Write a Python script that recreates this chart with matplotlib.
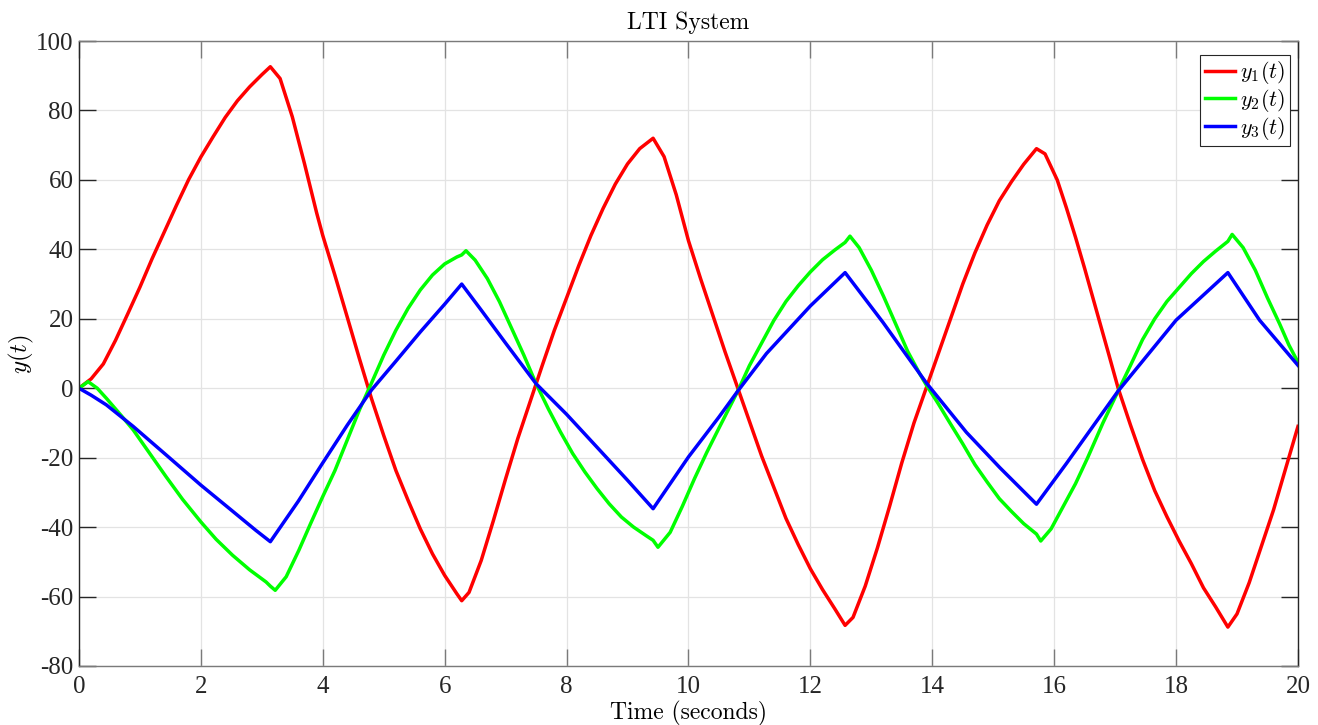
import matplotlib
matplotlib.use('Agg')
import matplotlib.pyplot as plt

# values, one time base per output
t1 = [0, 0.2, 0.4, 0.6, 0.8, 1.0, 1.2, 1.4, 1.6, 1.8, 2.0, 2.2, 2.4, 2.6, 2.8,
      3.0, 3.14, 3.3, 3.5, 3.7, 3.9, 4.0, 4.2, 4.4, 4.6, 4.8, 5.0, 5.2, 5.4,
      5.6, 5.8, 6.0, 6.2, 6.28, 6.4, 6.6, 6.8, 7.0, 7.2, 7.4, 7.6, 7.8, 8.0,
      8.2, 8.4, 8.6, 8.8, 9.0, 9.2, 9.42, 9.6, 9.8, 10.0, 10.2, 10.4, 10.6,
      10.8, 11.0, 11.2, 11.4, 11.6, 11.8, 12.0, 12.2, 12.4, 12.57, 12.7, 12.9,
      13.1, 13.3, 13.5, 13.7, 13.9, 14.1, 14.3, 14.5, 14.7, 14.9, 15.1, 15.3,
      15.5, 15.71, 15.85, 16.05, 16.2, 16.35, 16.5, 16.7, 16.9, 17.05, 17.25,
      17.45, 17.65, 17.85, 18.05, 18.25, 18.45, 18.65, 18.85, 19.0, 19.2, 19.4,
      19.6, 19.8, 20.0]
y1 = [0, 2.7, 7, 13.8, 21.4, 29.1, 37.3, 45, 52.7, 60.1, 66.6, 72.4, 78, 82.8,
      86.8, 90.3, 92.6, 89.2, 78.2, 64.7, 50.5, 44, 32.5, 20.6, 8.6, -3, -13.6,
      -23.7, -32.3, -40.5, -47.7, -53.9, -59.2, -61.2, -58.8, -49.6, -38.1,
      -26.1, -14.5, -4, 6.5, 16.7, 26, 35.3, 44, 51.8, 58.8, 64.6, 69, 72,
      66.7, 55.7, 42.5, 31.5, 21, 10.5, 0.5, -9.5, -19.5, -28.5, -37.5, -45,
      -52, -58, -63.5, -68.3, -66, -57, -46, -34, -21.5, -10, 0, 10, 20, 30,
      39, 47, 54, 59.5, 64.5, 69, 67.5, 60, 52, 43.5, 34.5, 22, 9.5, 0, -10.5,
      -20.5, -29.5, -37, -44, -50.5, -57.5, -63, -68.8, -65, -56, -45.5, -35,
      -23, -11]

t2 = [0, 0.15, 0.3, 0.45, 0.7, 0.89, 1.15, 1.43, 1.7, 2.0, 2.25, 2.52, 2.8,
      3.07, 3.14, 3.22, 3.4, 3.61, 3.8, 4.0, 4.2, 4.4, 4.6, 4.8, 5.0, 5.2, 5.4,
      5.6, 5.8, 6.0, 6.2, 6.28, 6.35, 6.5, 6.7, 6.9, 7.1, 7.3, 7.5, 7.7, 7.9,
      8.1, 8.3, 8.5, 8.7, 8.9, 9.1, 9.3, 9.42, 9.5, 9.7, 9.9, 10.1, 10.3, 10.5,
      10.81, 11.0, 11.2, 11.4, 11.6, 11.8, 12.0, 12.2, 12.4, 12.57, 12.65,
      12.8, 13.0, 13.2, 13.4, 13.6, 13.8, 13.9, 14.1, 14.3, 14.5, 14.7, 14.9,
      15.1, 15.3, 15.5, 15.71, 15.78, 15.95, 16.15, 16.35, 16.55, 16.8, 17.05,
      17.25, 17.45, 17.65, 17.85, 18.05, 18.25, 18.45, 18.65, 18.85, 18.92,
      19.1, 19.3, 19.5, 19.7, 19.85, 20.0]
y2 = [0, 1.9, 0, -2.9, -8, -12, -18.5, -25.5, -32, -38.5, -43.5, -48.1, -52.3,
      -55.8, -57, -58.2, -54.3, -46.6, -39, -31.2, -23.7, -15, -6.3, 1.5, 9.5,
      16.7, 23, 28.3, 32.6, 35.8, 37.8, 38.4, 39.6, 36.9, 31.6, 24.9, 17.2,
      9.5, 1.3, -5.9, -12.6, -18.8, -24.1, -28.9, -33.3, -37.1, -40, -42.4,
      -43.8, -45.8, -41.5, -34, -26, -18.5, -11.5, -0.8, 6.5, 13, 19.5, 25,
      29.5, 33.5, 37, 39.8, 42, 43.8, 40.5, 34, 26.5, 18.5, 10.5, 4, 1, -4.5,
      -10.3, -16, -22, -27, -31.8, -35.5, -39, -42, -44, -40.5, -34, -27.5,
      -20, -10, -0.8, 6.5, 14, 20, 25, 29, 33, 36.5, 39.5, 42.3, 44.3, 40.5,
      34, 26, 18.5, 12.5, 7.5]

t3 = [0, 0.2, 0.45, 0.89, 1.43, 2.0, 2.52, 2.9, 3.14, 3.6, 4.0, 4.4, 4.8, 5.2,
      5.6, 6.0, 6.28, 6.6, 7.0, 7.5, 8.0, 8.5, 9.0, 9.42, 9.7, 10.0, 10.5,
      10.81, 11.28, 12.0, 12.57, 13.19, 13.9, 14.56, 15.11, 15.71, 16.2, 17.05,
      18.0, 18.85, 19.37, 20.0]
y3 = [0, -2, -4.8, -11, -19.2, -27.9, -35.4, -40.9, -44.2, -32.5, -21.5, -10.7,
      -0.5, 7.8, 16.2, 24.2, 30, 22.5, 13, 1.3, -7.5, -17, -26.5, -34.7, -27.5,
      -19.8, -8.3, -0.8, 10, 23.7, 33.3, 19, 1.6, -12.7, -22.9, -33.4, -21.7,
      -0.8, 19.6, 33.3, 19.6, 6.6]

labels = ['$y_1(t)$', '$y_2(t)$', '$y_3(t)$']
colors = ['#ff0000', '#00ff00', '#0000ff']

plt.rcParams['font.family'] = ['Liberation Serif', 'DejaVu Serif']
plt.rcParams['mathtext.fontset'] = 'cm'
plt.rcParams['axes.unicode_minus'] = False

fig = plt.figure(figsize=(13.18, 7.25), dpi=100)
ax = fig.add_axes([0.0599, 0.0814, 0.9249, 0.862])

for tt, y, lab, c in zip([t1, t2, t3], [y1, y2, y3], labels, colors):
    ax.plot(tt, y, color=c, linewidth=2.5, label=lab)

ax.set_xlim(0, 20)
ax.set_ylim(-80, 100)
ax.set_xticks(range(0, 21, 2))
ax.set_yticks(range(-80, 101, 20))
ax.grid(True, color='#e3e3e3', linewidth=0.9)
ax.set_axisbelow(True)

xcol = '#7a7a7a'
ycol = '#262626'
ax.spines['bottom'].set_color(xcol)
ax.spines['top'].set_color(xcol)
ax.spines['left'].set_color(ycol)
ax.spines['right'].set_color(ycol)
for s in ax.spines.values():
    s.set_linewidth(1.0)
ax.tick_params(direction='in', length=12, width=1.0, labelsize=18,
               top=True, right=True)
ax.tick_params(axis='x', colors=xcol, labelcolor='#262626', pad=7)
ax.tick_params(axis='y', colors=ycol, labelcolor='#262626', pad=4)

ax.set_title('LTI System', fontsize=17, family='cmr10', pad=9)
ax.set_xlabel('Time (seconds)', fontsize=17, family='cmr10', labelpad=2)
ax.set_ylabel('$y(t)$', fontsize=18, labelpad=0)

leg = ax.legend(loc='upper right', bbox_to_anchor=(0.9934, 0.9776),
                fontsize=16, fancybox=False, framealpha=1,
                edgecolor='#262626', handlelength=1.35, handletextpad=0.25,
                borderpad=0.2, labelspacing=0.03, borderaxespad=0)
leg.get_frame().set_linewidth(0.8)

fig.savefig('out.png', dpi=100)
